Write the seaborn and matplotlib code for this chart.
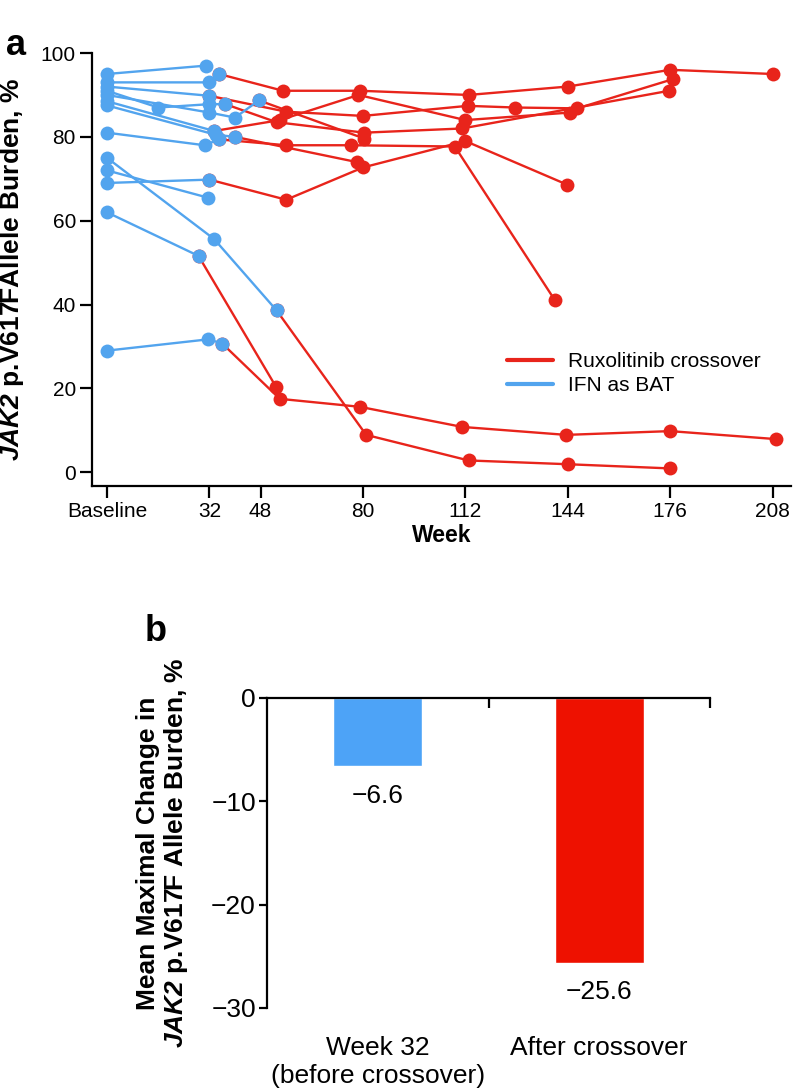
import seaborn as sns
import pandas as pd
import numpy as np
import matplotlib
import matplotlib.pyplot as plt
from matplotlib import font_manager

# theme first, then fonts (set_style resets font.family)
sns.set_style("ticks")
plt.rcParams['font.family'] = ['Liberation Sans', 'DejaVu Sans']
plt.rcParams['mathtext.fontset'] = 'custom'
plt.rcParams['mathtext.rm'] = 'Liberation Sans:bold'
plt.rcParams['mathtext.bfit'] = 'Liberation Sans:italic:bold'
plt.rcParams['text.color'] = 'black'
plt.rcParams['axes.labelcolor'] = 'black'
plt.rcParams['xtick.color'] = 'black'
plt.rcParams['ytick.color'] = 'black'

names = set(f.name for f in font_manager.fontManager.ttflist)
narrow = 'Liberation Sans Narrow' if 'Liberation Sans Narrow' in names else 'Liberation Sans'

blue = '#52A4EE'
red = '#E8241B'

# panel a: IFN as BAT phase (weeks, allele burden %) per patient
ifn_weeks = [
    [0, 31],
    [0, 32, 35],
    [0, 32],
    [0, 16, 32, 37],
    [0, 32, 40, 47.5],
    [0, 33.5],
    [0, 34, 40],
    [0, 30.5, 35],
    [0, 33.5, 53],
    [0, 31.5],
    [0, 32],
    [0, 28.6],
    [0, 31.7, 36],
]
ifn_values = [
    [95, 97],
    [93, 93, 95],
    [92, 89.8],
    [91, 87, 87.8, 87.8],
    [90, 85.8, 84.6, 88.7],
    [88.5, 81.4],
    [87.5, 80.5, 80],
    [81, 78, 79.4],
    [75, 55.6, 38.6],
    [72, 65.5],
    [69, 69.8],
    [62, 51.6],
    [29, 31.7, 30.7],
]

# panel a: ruxolitinib crossover phase, each starts at the last IFN point
rux_weeks = [
    [35, 55, 79, 113, 144, 176, 208],
    [32, 56, 80, 112.7, 127.6, 147, 177],
    [33.5, 54, 78.6, 112, 144.7],
    [37, 53, 80.4, 111, 175.7],
    [35, 56, 76.4, 108.7, 140],
    [40, 78],
    [47.5, 80.4],
    [32, 56, 80, 112, 143.8],
    [28.6, 52.8],
    [36, 54, 79, 111, 143.5, 176, 209],
    [53, 81, 113, 144, 176],
]
rux_values = [
    [95, 91, 91, 90, 92, 96, 95],
    [89.8, 86, 85, 87.4, 87, 86.8, 93.8],
    [81.4, 84, 90, 84, 85.8],
    [87.8, 83.5, 81, 82, 91],
    [79.4, 78, 78, 77.7, 41],
    [80, 74],
    [88.7, 79.6],
    [69.8, 65, 72.7, 79, 68.6],
    [51.6, 20.4],
    [30.7, 17.5, 15.6, 10.8, 8.9, 9.8, 7.9],
    [38.6, 8.9, 2.8, 1.9, 0.9],
]

week_ticks = [0, 32, 48, 80, 112, 144, 176, 208]
week_labels = ['Baseline', '32', '48', '80', '112', '144', '176', '208']

# panel b
groups = ['Week 32\n(before crossover)', 'After crossover']
mean_change = [-6.6, -25.6]


def long_df(weeks, values):
    rows = []
    for i, (w, v) in enumerate(zip(weeks, values)):
        for a, b in zip(w, v):
            rows.append({'patient': i, 'week': a, 'burden': b})
    return pd.DataFrame(rows)


ifn_df = long_df(ifn_weeks, ifn_values)
rux_df = long_df(rux_weeks, rux_values)

fig = plt.figure(figsize=(7.99, 10.89), dpi=100)

# ---- panel a
ax1 = fig.add_axes([0.1151, 0.5537, 0.875, 0.3976])
sns.lineplot(data=rux_df, x='week', y='burden', units='patient', estimator=None,
             sort=False, color=red, marker='o', markersize=10, markeredgewidth=0,
             linewidth=1.7, ax=ax1)
sns.lineplot(data=ifn_df, x='week', y='burden', units='patient', estimator=None,
             sort=False, color=blue, marker='o', markersize=10, markeredgewidth=0,
             linewidth=1.7, ax=ax1)
ax1.set_xlim(-4.7, 213.8)
ax1.set_ylim(-3.3, 100)
ax1.set_xticks(week_ticks)
ax1.set_xticklabels(week_labels)
ax1.set_yticks([0, 20, 40, 60, 80, 100])
for s in ['top', 'right']:
    ax1.spines[s].set_visible(False)
for s in ['left', 'bottom']:
    ax1.spines[s].set_linewidth(1.6)
    ax1.spines[s].set_color('black')
ax1.tick_params(direction='out', length=8.5, width=1.6, labelsize=15, pad=3, colors='black')
ax1.set_xlabel('Week', fontsize=16.5, fontweight='bold', labelpad=2)
ax1.set_ylabel(r'$\mathbfit{JAK2}$ p.V617FAllele Burden, %', fontsize=19, fontweight='bold')
ax1.yaxis.set_label_coords(-0.094, 0.5)

leg_handles = [plt.Line2D([], [], color=red, linewidth=3),
               plt.Line2D([], [], color=blue, linewidth=3)]
ax1.legend(leg_handles, ['Ruxolitinib crossover', 'IFN as BAT'], loc='upper left',
           bbox_to_anchor=(0.594, 0.31), frameon=False, fontsize=15, borderpad=0,
           borderaxespad=0, handlelength=2.2, handletextpad=0.7, labelspacing=0.25)

fig.text(0.008, 0.958, 'a', fontsize=26, fontweight='bold', va='center')

# ---- panel b
ax2 = fig.add_axes([0.3342, 0.0744, 0.5544, 0.2847])
sns.barplot(x=groups, y=mean_change, hue=groups, palette=['#4DA3F7', '#EE1100'],
            width=0.4, saturation=1, legend=False, ax=ax2)
ax2.set_xlim(-0.5, 1.5)
ax2.set_ylim(-30, 0)
ax2.set_yticks([0, -10, -20, -30])
for s in ['bottom', 'right']:
    ax2.spines[s].set_visible(False)
for s in ['left', 'top']:
    ax2.spines[s].set_linewidth(1.6)
    ax2.spines[s].set_color('black')
ax2.set_xticks([0.5, 1.5], minor=True)
ax2.tick_params(axis='x', which='minor', top=True, bottom=False, direction='in',
                length=7, width=1.6, color='black')
ax2.tick_params(axis='x', which='major', length=0, pad=20)
ax2.tick_params(axis='y', direction='out', length=6, width=1.6, color='black', pad=2)
for lab in ax2.get_xticklabels() + ax2.get_yticklabels():
    lab.set_fontfamily(narrow)
    lab.set_fontsize(19)
for i, v in enumerate(mean_change):
    ax2.text(i, v - 2.85, f'{v:.1f}'.replace('-', '\u2212'), ha='center', va='center',
             fontsize=19, family=narrow)
ax2.set_ylabel('Mean Maximal Change in\n' + r'$\mathbfit{JAK2}$ p.V617F Allele Burden, %',
               fontsize=19, fontweight='bold', linespacing=1.05)
ax2.yaxis.set_label_coords(-0.175, 0.5)

fig.text(0.1815, 0.4197, 'b', fontsize=26, fontweight='bold', va='center')

fig.savefig('out.png', dpi=100)
